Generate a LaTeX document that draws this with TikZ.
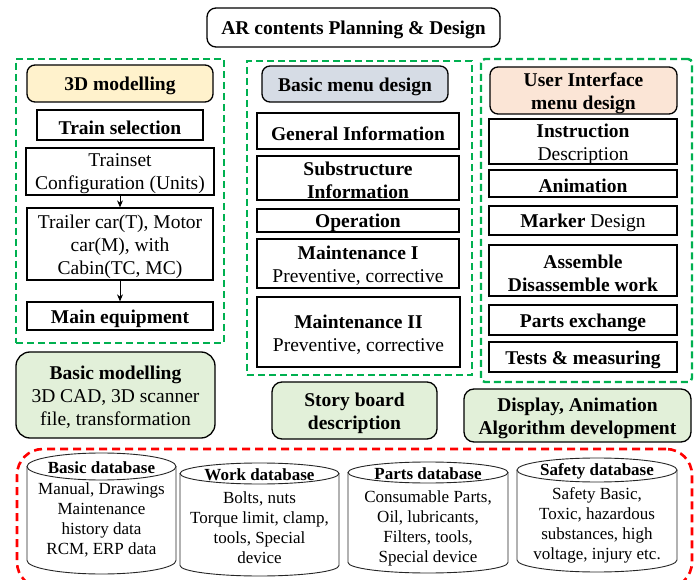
\documentclass[tikz,border=0pt]{standalone}
\usepackage{fontspec}
\setmainfont{Liberation Serif}
\usetikzlibrary{arrows.meta}
\definecolor{dgreen}{HTML}{00B050}
\definecolor{yfill}{HTML}{FFF2CC}
\definecolor{bfill}{HTML}{D6DCE5}
\definecolor{pfill}{HTML}{FBE5D6}
\definecolor{gfill}{HTML}{E2F0D9}
% name, x1, y1, x2, y2, style, text
\newcommand\mybox[7]{%
  \pgfmathsetmacro\bw{#4-#2}\pgfmathsetmacro\bh{#5-#3}%
  \node[#6, minimum width=\bw pt, minimum height=\bh pt] (#1) at ({(#2+#4)/2},{(#3+#5)/2}) {};
  \node[yshift=-2.5pt] (#1-t) at (#1.center) {#7};}
% name, x1, x2, ytop, ybot, ry, heading, body centre y, body
\newcommand\mycyl[9]{%
  \pgfmathsetmacro\xc{(#2+#3)/2}\pgfmathsetmacro\rx{(#3-#2)/2}%
  \draw[cyl] (#2,{#4+#6}) -- (#2,{#5-#6})
     .. controls (#2,{#5-#6+0.5523*#6}) and ({\xc-0.5523*\rx},#5) .. (\xc,#5)
     .. controls ({\xc+0.5523*\rx},#5) and (#3,{#5-#6+0.5523*#6}) .. (#3,{#5-#6})
     -- (#3,{#4+#6});
  \draw[cyl] (\xc,{#4+#6}) ellipse [x radius=\rx, y radius=#6];
  \node[dbfont] (#1-h) at (\xc,{#4+#6+1.5}) {\textbf{#7}};
  \node[dbfont] (#1) at (\xc,{#8+1}) {#9};}
\begin{document}
\begin{tikzpicture}[x=1pt,y=-1pt,
  every node/.style={font=\fontsize{19.5}{23}\selectfont, inner sep=0pt, align=center},
  dbfont/.style={font=\fontsize{17}{20}\selectfont},
  bbox/.style={draw=black, line width=1.3pt, fill=white},
  gdash/.style={draw=dgreen, line width=2.4pt, dash pattern=on 7pt off 4pt},
  rdash/.style={draw=red, line width=2.6pt, dash pattern=on 8pt off 5pt},
  cyl/.style={draw=black!85, line width=0.9pt},
  arr/.style={-{Stealth[length=7pt,width=6pt]}, line width=1pt}]
\fill[white] (0,0) rectangle (697,580);
\useasboundingbox (0,0) rectangle (697,580);

\mybox{title}{207}{8}{500}{47}{bbox, rounded corners=9}{\textbf{AR contents Planning \& Design}}

% containers
\mybox{g1}{16}{59}{224}{343}{gdash}{}
\mybox{g2}{247}{61}{472}{375}{gdash}{}
\mybox{g3}{481}{59}{692}{382}{gdash, rounded corners=4}{}
\mybox{dbgroup}{17}{449}{692}{588}{rdash, rounded corners=26}{}

% left column
\mybox{m3d}{27}{65}{213}{102}{bbox, fill=yfill, rounded corners=8}{\textbf{3D modelling}}
\mybox{train}{37}{110}{203}{140}{bbox}{\textbf{Train selection}}
\mybox{conf}{26}{148}{214}{195}{bbox}{Trainset\\Configuration (Units)}
\mybox{trailer}{27}{208}{213}{280}{bbox}{Trailer car(T), Motor\\car(M), with\\Cabin(TC, MC)}
\mybox{maineq}{27}{302}{213}{330}{bbox}{\textbf{Main equipment}}
\mybox{basicmod}{16}{352}{215}{438}{bbox, fill=gfill, rounded corners=14}{\textbf{Basic modelling}\\3D CAD, 3D scanner\\file, transformation}
\draw[arr] (conf) -- (trailer);
\draw[arr] (trailer) -- (maineq);

% middle column
\mybox{menu}{262}{66}{448}{102}{bbox, fill=bfill, rounded corners=8}{\textbf{Basic menu design}}
\mybox{gen}{257}{113}{459}{149}{bbox}{\textbf{General Information}}
\mybox{sub}{257}{156}{459}{200}{bbox}{\textbf{Substructure}\\\textbf{Information}}
\mybox{oper}{257}{209}{459}{232}{bbox}{\textbf{Operation}}
\mybox{maintA}{257}{239}{459}{288}{bbox}{\textbf{Maintenance I}\\Preventive, corrective}
\mybox{maintB}{257}{297}{460}{367}{bbox}{\textbf{Maintenance II}\\Preventive, corrective}
\mybox{story}{272}{382}{437}{439}{bbox, fill=gfill, rounded corners=10}{\textbf{Story board}\\\textbf{description}}

% right column
\mybox{ui}{490}{67}{677}{114}{bbox, fill=pfill, rounded corners=8}{\textbf{User Interface}\\\textbf{menu design}}
\mybox{instr}{489}{119}{677}{164}{bbox}{\textbf{Instruction}\\Description}
\mybox{anim}{489}{170}{677}{197}{bbox}{\textbf{Animation}}
\mybox{marker}{489}{206}{677}{235}{bbox}{\textbf{Marker} Design}
\mybox{assem}{489}{245}{677}{296}{bbox}{\textbf{Assemble}\\\textbf{Disassemble work}}
\mybox{partsx}{489}{305}{677}{335}{bbox}{\textbf{Parts exchange}}
\mybox{tests}{489}{342}{677}{372}{bbox}{\textbf{Tests \& measuring}}
\mybox{display}{464}{389}{691}{442}{bbox, fill=gfill, rounded corners=10}{\textbf{Display, Animation}\\\textbf{Algorithm development}}

% databases
\mycyl{basicdb}{27}{176}{453}{574}{13.5}{Basic database}{519}{Manual, Drawings\\Maintenance\\history data\\RCM, ERP data}
\mycyl{workdb}{180}{339}{463}{576}{10.5}{Work database}{527}{Bolts, nuts\\Torque limit, clamp,\\tools, Special\\device}
\mycyl{partsdb}{348}{508}{462}{573}{10.5}{Parts database}{527}{Consumable Parts,\\Oil, lubricants,\\Filters, tools,\\Special device}
\mycyl{safetydb}{517}{677}{458}{572}{12}{Safety database}{524}{Safety Basic,\\Toxic, hazardous\\substances, high\\voltage, injury etc.}
\end{tikzpicture}
\end{document}
